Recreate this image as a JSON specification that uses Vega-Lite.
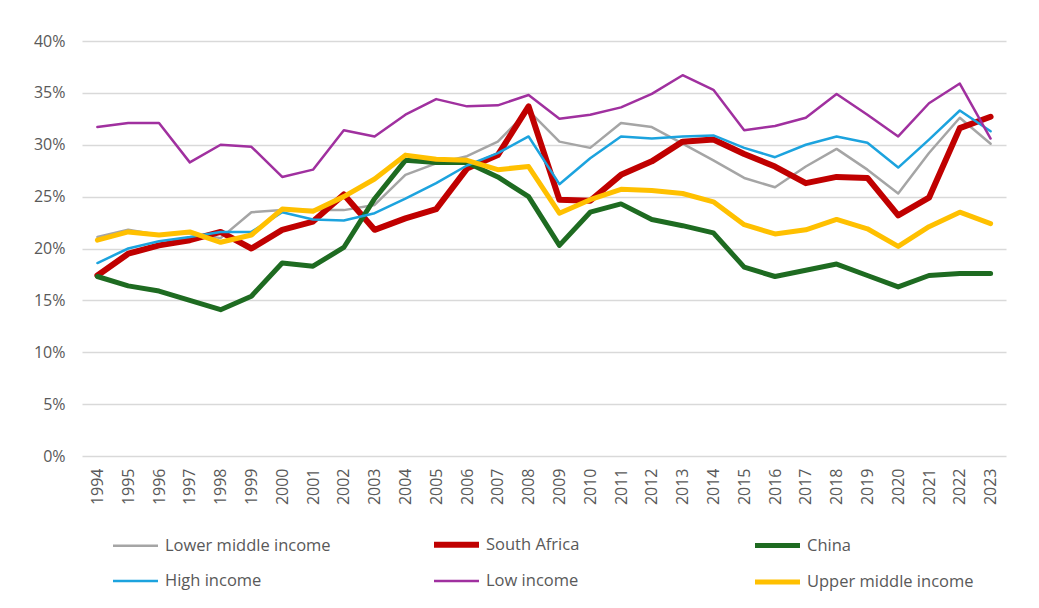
{
  "$schema": "https://vega.github.io/schema/vega-lite/v6.json",
  "width": 924,
  "height": 415,
  "autosize": {"type": "none"},
  "padding": {"left": 82, "top": 41, "right": 33, "bottom": 152},
  "background": "#ffffff",
  "config": {
    "font": "Open Sans",
    "view": {"stroke": null},
    "axis": {"labelColor": "#595959", "labelFont": "Open Sans"},
    "legend": {"labelFont": "Open Sans"}
  },
  "data": {"values": [
    {"year":"1994","series":"Lower middle income","value":21.1},{"year":"1995","series":"Lower middle income","value":21.8},{"year":"1996","series":"Lower middle income","value":21.3},{"year":"1997","series":"Lower middle income","value":21.5},{"year":"1998","series":"Lower middle income","value":21.0},{"year":"1999","series":"Lower middle income","value":23.5},{"year":"2000","series":"Lower middle income","value":23.7},{"year":"2001","series":"Lower middle income","value":23.7},{"year":"2002","series":"Lower middle income","value":23.7},{"year":"2003","series":"Lower middle income","value":24.2},{"year":"2004","series":"Lower middle income","value":27.1},{"year":"2005","series":"Lower middle income","value":28.2},{"year":"2006","series":"Lower middle income","value":28.9},{"year":"2007","series":"Lower middle income","value":30.3},{"year":"2008","series":"Lower middle income","value":33.3},{"year":"2009","series":"Lower middle income","value":30.3},{"year":"2010","series":"Lower middle income","value":29.7},{"year":"2011","series":"Lower middle income","value":32.1},{"year":"2012","series":"Lower middle income","value":31.7},{"year":"2013","series":"Lower middle income","value":30.1},{"year":"2014","series":"Lower middle income","value":28.5},{"year":"2015","series":"Lower middle income","value":26.8},{"year":"2016","series":"Lower middle income","value":25.9},{"year":"2017","series":"Lower middle income","value":27.9},{"year":"2018","series":"Lower middle income","value":29.6},{"year":"2019","series":"Lower middle income","value":27.6},{"year":"2020","series":"Lower middle income","value":25.3},{"year":"2021","series":"Lower middle income","value":29.2},{"year":"2022","series":"Lower middle income","value":32.6},{"year":"2023","series":"Lower middle income","value":30.1},
    {"year":"1994","series":"South Africa","value":17.4},{"year":"1995","series":"South Africa","value":19.5},{"year":"1996","series":"South Africa","value":20.3},{"year":"1997","series":"South Africa","value":20.8},{"year":"1998","series":"South Africa","value":21.6},{"year":"1999","series":"South Africa","value":20.0},{"year":"2000","series":"South Africa","value":21.8},{"year":"2001","series":"South Africa","value":22.6},{"year":"2002","series":"South Africa","value":25.2},{"year":"2003","series":"South Africa","value":21.8},{"year":"2004","series":"South Africa","value":22.9},{"year":"2005","series":"South Africa","value":23.8},{"year":"2006","series":"South Africa","value":27.7},{"year":"2007","series":"South Africa","value":29.0},{"year":"2008","series":"South Africa","value":33.7},{"year":"2009","series":"South Africa","value":24.7},{"year":"2010","series":"South Africa","value":24.6},{"year":"2011","series":"South Africa","value":27.1},{"year":"2012","series":"South Africa","value":28.4},{"year":"2013","series":"South Africa","value":30.3},{"year":"2014","series":"South Africa","value":30.5},{"year":"2015","series":"South Africa","value":29.1},{"year":"2016","series":"South Africa","value":27.9},{"year":"2017","series":"South Africa","value":26.3},{"year":"2018","series":"South Africa","value":26.9},{"year":"2019","series":"South Africa","value":26.8},{"year":"2020","series":"South Africa","value":23.2},{"year":"2021","series":"South Africa","value":24.9},{"year":"2022","series":"South Africa","value":31.6},{"year":"2023","series":"South Africa","value":32.7},
    {"year":"1994","series":"China","value":17.3},{"year":"1995","series":"China","value":16.4},{"year":"1996","series":"China","value":15.9},{"year":"1997","series":"China","value":15.0},{"year":"1998","series":"China","value":14.1},{"year":"1999","series":"China","value":15.4},{"year":"2000","series":"China","value":18.6},{"year":"2001","series":"China","value":18.3},{"year":"2002","series":"China","value":20.1},{"year":"2003","series":"China","value":24.8},{"year":"2004","series":"China","value":28.5},{"year":"2005","series":"China","value":28.3},{"year":"2006","series":"China","value":28.3},{"year":"2007","series":"China","value":26.9},{"year":"2008","series":"China","value":25.0},{"year":"2009","series":"China","value":20.3},{"year":"2010","series":"China","value":23.5},{"year":"2011","series":"China","value":24.3},{"year":"2012","series":"China","value":22.8},{"year":"2013","series":"China","value":22.2},{"year":"2014","series":"China","value":21.5},{"year":"2015","series":"China","value":18.2},{"year":"2016","series":"China","value":17.3},{"year":"2017","series":"China","value":17.9},{"year":"2018","series":"China","value":18.5},{"year":"2019","series":"China","value":17.4},{"year":"2020","series":"China","value":16.3},{"year":"2021","series":"China","value":17.4},{"year":"2022","series":"China","value":17.6},{"year":"2023","series":"China","value":17.6},
    {"year":"1994","series":"High income","value":18.6},{"year":"1995","series":"High income","value":20.0},{"year":"1996","series":"High income","value":20.7},{"year":"1997","series":"High income","value":21.1},{"year":"1998","series":"High income","value":21.6},{"year":"1999","series":"High income","value":21.6},{"year":"2000","series":"High income","value":23.5},{"year":"2001","series":"High income","value":22.8},{"year":"2002","series":"High income","value":22.7},{"year":"2003","series":"High income","value":23.4},{"year":"2004","series":"High income","value":24.8},{"year":"2005","series":"High income","value":26.3},{"year":"2006","series":"High income","value":28.0},{"year":"2007","series":"High income","value":29.2},{"year":"2008","series":"High income","value":30.8},{"year":"2009","series":"High income","value":26.2},{"year":"2010","series":"High income","value":28.7},{"year":"2011","series":"High income","value":30.8},{"year":"2012","series":"High income","value":30.6},{"year":"2013","series":"High income","value":30.8},{"year":"2014","series":"High income","value":30.9},{"year":"2015","series":"High income","value":29.7},{"year":"2016","series":"High income","value":28.8},{"year":"2017","series":"High income","value":30.0},{"year":"2018","series":"High income","value":30.8},{"year":"2019","series":"High income","value":30.2},{"year":"2020","series":"High income","value":27.8},{"year":"2021","series":"High income","value":30.5},{"year":"2022","series":"High income","value":33.3},{"year":"2023","series":"High income","value":31.3},
    {"year":"1994","series":"Low income","value":31.7},{"year":"1995","series":"Low income","value":32.1},{"year":"1996","series":"Low income","value":32.1},{"year":"1997","series":"Low income","value":28.3},{"year":"1998","series":"Low income","value":30.0},{"year":"1999","series":"Low income","value":29.8},{"year":"2000","series":"Low income","value":26.9},{"year":"2001","series":"Low income","value":27.6},{"year":"2002","series":"Low income","value":31.4},{"year":"2003","series":"Low income","value":30.8},{"year":"2004","series":"Low income","value":32.9},{"year":"2005","series":"Low income","value":34.4},{"year":"2006","series":"Low income","value":33.7},{"year":"2007","series":"Low income","value":33.8},{"year":"2008","series":"Low income","value":34.8},{"year":"2009","series":"Low income","value":32.5},{"year":"2010","series":"Low income","value":32.9},{"year":"2011","series":"Low income","value":33.6},{"year":"2012","series":"Low income","value":34.9},{"year":"2013","series":"Low income","value":36.7},{"year":"2014","series":"Low income","value":35.3},{"year":"2015","series":"Low income","value":31.4},{"year":"2016","series":"Low income","value":31.8},{"year":"2017","series":"Low income","value":32.6},{"year":"2018","series":"Low income","value":34.9},{"year":"2019","series":"Low income","value":32.9},{"year":"2020","series":"Low income","value":30.8},{"year":"2021","series":"Low income","value":34.0},{"year":"2022","series":"Low income","value":35.9},{"year":"2023","series":"Low income","value":30.6},
    {"year":"1994","series":"Upper middle income","value":20.8},{"year":"1995","series":"Upper middle income","value":21.6},{"year":"1996","series":"Upper middle income","value":21.3},{"year":"1997","series":"Upper middle income","value":21.6},{"year":"1998","series":"Upper middle income","value":20.6},{"year":"1999","series":"Upper middle income","value":21.3},{"year":"2000","series":"Upper middle income","value":23.8},{"year":"2001","series":"Upper middle income","value":23.6},{"year":"2002","series":"Upper middle income","value":25.0},{"year":"2003","series":"Upper middle income","value":26.7},{"year":"2004","series":"Upper middle income","value":29.0},{"year":"2005","series":"Upper middle income","value":28.6},{"year":"2006","series":"Upper middle income","value":28.5},{"year":"2007","series":"Upper middle income","value":27.6},{"year":"2008","series":"Upper middle income","value":27.9},{"year":"2009","series":"Upper middle income","value":23.4},{"year":"2010","series":"Upper middle income","value":24.7},{"year":"2011","series":"Upper middle income","value":25.7},{"year":"2012","series":"Upper middle income","value":25.6},{"year":"2013","series":"Upper middle income","value":25.3},{"year":"2014","series":"Upper middle income","value":24.5},{"year":"2015","series":"Upper middle income","value":22.3},{"year":"2016","series":"Upper middle income","value":21.4},{"year":"2017","series":"Upper middle income","value":21.8},{"year":"2018","series":"Upper middle income","value":22.8},{"year":"2019","series":"Upper middle income","value":21.9},{"year":"2020","series":"Upper middle income","value":20.2},{"year":"2021","series":"Upper middle income","value":22.1},{"year":"2022","series":"Upper middle income","value":23.5},{"year":"2023","series":"Upper middle income","value":22.4}
  ]},
  "encoding": {
    "x": {
      "field": "year", "type": "ordinal",
      "scale": {"type": "point", "padding": 0.5},
      "axis": {"title": null, "labelAngle": -90, "labelFontSize": 16, "labelPadding": 12, "ticks": false, "domain": false, "grid": false}
    },
    "y": {
      "field": "value", "type": "quantitative",
      "scale": {"domain": [0, 40], "nice": false},
      "axis": {"title": null, "values": [0, 5, 10, 15, 20, 25, 30, 35, 40], "labelExpr": "datum.value + '%'", "labelFontSize": 16, "labelPadding": 17, "ticks": false, "domain": false, "gridColor": "#D9D9D9", "gridWidth": 1.5}
    },
    "color": {
      "field": "series", "type": "nominal",
      "scale": {
        "domain": ["Lower middle income", "South Africa", "China", "High income", "Low income", "Upper middle income"],
        "range": ["#A5A5A5", "#C00000", "#1E6B21", "#1CA3DE", "#A0309F", "#FFC000"]
      },
      "legend": {
        "title": null, "orient": "none", "legendX": 28, "legendY": 478, "direction": "horizontal",
        "columns": 3, "gridAlign": "all", "columnPadding": 90, "rowPadding": -9,
        "symbolType": "stroke", "symbolSize": 2025, "labelFontSize": 16.5, "labelColor": "#595959", "labelOffset": 4, "labelLimit": 300
      }
    },
    "strokeWidth": {
      "field": "series", "type": "nominal",
      "scale": {
        "type": "ordinal",
        "domain": ["Lower middle income", "South Africa", "China", "High income", "Low income", "Upper middle income"],
        "range": [2.5, 6, 5, 2.5, 2.5, 5]
      },
      "legend": {
        "title": null, "orient": "none", "legendX": 28, "legendY": 478, "direction": "horizontal",
        "columns": 3, "gridAlign": "all", "columnPadding": 90, "rowPadding": -9,
        "symbolType": "stroke", "symbolSize": 2025, "labelFontSize": 16.5, "labelColor": "#595959", "labelOffset": 4, "labelLimit": 300
      }
    }
  },
  "layer": [
    {"transform": [{"filter": "datum.series == 'Lower middle income'"}], "mark": {"type": "line", "strokeJoin": "round", "strokeCap": "round"}},
    {"transform": [{"filter": "datum.series == 'South Africa'"}], "mark": {"type": "line", "strokeJoin": "round", "strokeCap": "round"}},
    {"transform": [{"filter": "datum.series == 'China'"}], "mark": {"type": "line", "strokeJoin": "round", "strokeCap": "round"}},
    {"transform": [{"filter": "datum.series == 'High income'"}], "mark": {"type": "line", "strokeJoin": "round", "strokeCap": "round"}},
    {"transform": [{"filter": "datum.series == 'Low income'"}], "mark": {"type": "line", "strokeJoin": "round", "strokeCap": "round"}},
    {"transform": [{"filter": "datum.series == 'Upper middle income'"}], "mark": {"type": "line", "strokeJoin": "round", "strokeCap": "round"}}
  ]
}
